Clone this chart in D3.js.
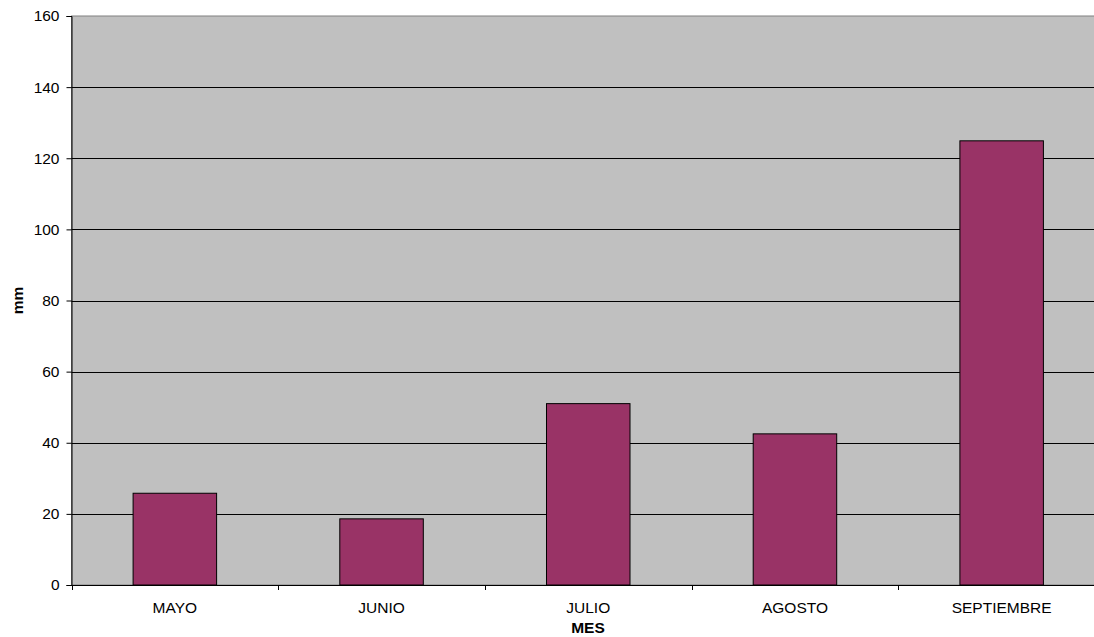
<!DOCTYPE html>
<html><head><meta charset="utf-8">
<script src="https://cdn.jsdelivr.net/npm/d3@7"></script>
<style>body{margin:0;background:#fff;}text{font-family:"Liberation Sans",Arial,sans-serif;}</style>
</head><body><svg id="c" width="1094" height="637"></svg>
<script>
const categories = ["MAYO","JUNIO","JULIO","AGOSTO","SEPTIEMBRE"];
const values = [25.8, 18.6, 51.0, 42.5, 124.9];
const yTicks = [0,20,40,60,80,100,120,140,160];

const svg = d3.select("#c");
const L=71.5, R=1105, T=16, B=585;
const FS = 15.5;
const x = d3.scaleBand().domain(categories).range([L,R]).padding(0);
const y = d3.scaleLinear().domain([0,160]).range([B,T]);

svg.append("rect").attr("x",L).attr("y",T).attr("width",R-L).attr("height",B-T).attr("fill","#c0c0c0").attr("stroke","#808080").attr("stroke-width",1);

svg.append("g").selectAll("line").data(yTicks.filter(d=>d>0&&d<160)).join("line")
 .attr("x1",L).attr("x2",R).attr("y1",d=>Math.round(y(d))+0.5).attr("y2",d=>Math.round(y(d))+0.5)
 .attr("stroke","#000").attr("stroke-width",1);

const bw = x.bandwidth()*0.404;
svg.append("g").selectAll("rect").data(categories).join("rect")
 .attr("x",d=>x(d)+x.bandwidth()/2-bw/2).attr("width",bw)
 .attr("y",(d,i)=>y(values[i])).attr("height",(d,i)=>B-y(values[i]))
 .attr("fill","#993366").attr("stroke","#000").attr("stroke-width",1);

const ya = svg.append("g").attr("transform",`translate(${L},0)`)
 .call(d3.axisLeft(y).tickValues(yTicks).tickSize(5).tickPadding(7));
ya.select(".domain").attr("stroke","#000");
ya.selectAll("text").attr("font-size",FS).attr("fill","#000").style("font-family","Liberation Sans, Arial, sans-serif");

const xa = svg.append("g").attr("transform",`translate(0,${B})`)
 .call(d3.axisBottom(x).tickSize(0).tickPadding(0));
xa.select(".domain").attr("stroke","#000");
xa.selectAll("text").attr("y",28.3).attr("dy",0).attr("font-size",FS).attr("fill","#000").style("font-family","Liberation Sans, Arial, sans-serif");
const bounds = [...categories.map(c=>x(c)), R];
svg.append("g").selectAll("line").data(bounds).join("line")
 .attr("x1",d=>Math.round(d)+0.5).attr("x2",d=>Math.round(d)+0.5).attr("y1",B).attr("y2",B+5).attr("stroke","#000");

svg.append("text").attr("x",588).attr("y",633.3).attr("text-anchor","middle").attr("font-size",FS).attr("font-weight","bold").text("MES");
svg.append("text").attr("transform",`translate(22.5,${(T+B)/2}) rotate(-90)`).attr("text-anchor","middle").attr("font-size",FS).attr("font-weight","bold").text("mm");
</script></body></html>
